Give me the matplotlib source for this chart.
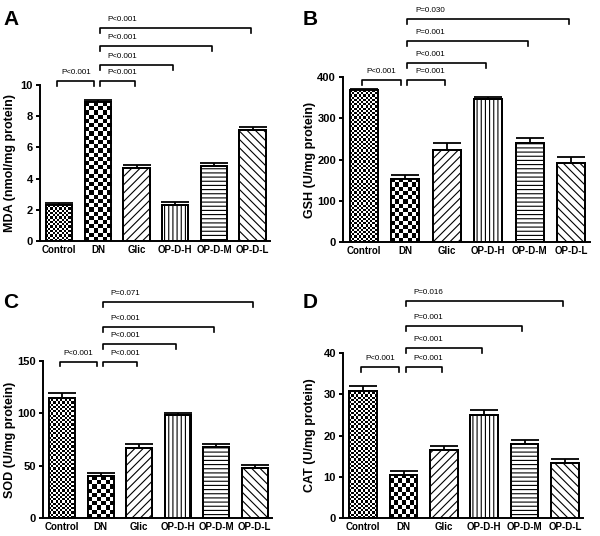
import matplotlib
matplotlib.use("Agg")
import matplotlib.pyplot as plt
import numpy as np

plt.rcParams['font.family'] = ['Liberation Sans', 'DejaVu Sans']
plt.rcParams['hatch.linewidth'] = 0.8

# groups
groups = ['Control', 'DN', 'Glic', 'OP-D-H', 'OP-D-M', 'OP-D-L']

# panel values (mean, SEM)
mda = [2.3, 8.9, 4.65, 2.3, 4.8, 7.1]
mda_err = [0.15, 0.17, 0.2, 0.2, 0.17, 0.2]
gsh = [368, 153, 224, 346, 241, 192]
gsh_err = [4, 9, 15, 6, 12, 13]
sod = [115, 40, 67, 98, 68, 48]
sod_err = [4.5, 3, 3.5, 2, 3, 3]
cat = [30.8, 10.5, 16.4, 25.0, 18.0, 13.4]
cat_err = [1.3, 0.9, 1.0, 1.3, 1.0, 0.8]

# comparisons: (group i, group j, label)
cmp_a = [(0, 1, 'P<0.001'), (1, 2, 'P<0.001'), (1, 3, 'P<0.001'), (1, 4, 'P<0.001'), (1, 5, 'P<0.001')]
cmp_b = [(0, 1, 'P<0.001'), (1, 2, 'P=0.001'), (1, 3, 'P<0.001'), (1, 4, 'P=0.001'), (1, 5, 'P=0.030')]
cmp_c = [(0, 1, 'P<0.001'), (1, 2, 'P<0.001'), (1, 3, 'P<0.001'), (1, 4, 'P<0.001'), (1, 5, 'P=0.071')]
cmp_d = [(0, 1, 'P<0.001'), (1, 2, 'P<0.001'), (1, 3, 'P<0.001'), (1, 4, 'P=0.001'), (1, 5, 'P=0.016')]

hatches = [None, None, '////', '||||', '----', '\\\\\\\\']
checker_px = {0: 2.2, 1: 4.2}   # checkerboard square size for Control and DN

W, H = 600, 536


def checker_fill(ax, bar, sq):
    ext = bar.get_window_extent()
    nx = max(1, int(round(ext.width / sq)))
    ny = max(1, int(round(ext.height / sq)))
    arr = (np.add.outer(np.arange(ny), np.arange(nx)) % 2).astype(float)
    x0 = bar.get_x()
    im = ax.imshow(arr, extent=[x0, x0 + bar.get_width(), 0, bar.get_height()],
                   origin='lower', cmap='gray', interpolation='nearest',
                   aspect='auto', zorder=2.5)
    im.set_clip_path(bar)


def panel(box, vals, errs, ymax, ystep, ylabel, letter, letter_xy, comps, levels):
    # box in pixels: left, top, right, bottom
    l, t, r, b = box
    ax = fig.add_axes([l / W, 1 - b / H, (r - l) / W, (b - t) / H])
    x = np.arange(len(groups))
    ax.set_xlim(-0.5, 5.45)
    ax.set_ylim(0, ymax)
    bars = ax.bar(x, vals, width=0.68, color='white', edgecolor='black',
                  linewidth=1.4, zorder=2)
    for bb, h in zip(bars, hatches):
        if h:
            bb.set_hatch(h)
    for i, sq in checker_px.items():
        checker_fill(ax, bars[i], sq)
    ax.bar(x, vals, width=0.68, fill=False, edgecolor='black', linewidth=1.4, zorder=3)
    ax.errorbar(x, vals, yerr=[[0] * len(vals), errs], fmt='none', ecolor='black',
                elinewidth=1.3, capsize=10, capthick=1.3, zorder=1)
    ax.set_xlim(-0.5, 5.45)
    ax.set_ylim(0, ymax)
    ax.set_yticks(np.arange(0, ymax + ystep / 2, ystep))
    ax.set_xticks(x)
    ax.set_xticklabels(groups, fontsize=7, fontweight='bold')
    ax.tick_params(axis='x', length=0, pad=3)
    ax.tick_params(axis='y', length=3, width=1.4, labelsize=8, pad=2)
    for lab in ax.get_yticklabels():
        lab.set_fontweight('bold')
    ax.set_ylabel(ylabel, fontsize=9, fontweight='bold')
    ax.yaxis.set_label_coords((letter_xy[0] + 13 - l) / (r - l), 0.5)
    for s in ['top', 'right']:
        ax.spines[s].set_visible(False)
    for s in ['left', 'bottom']:
        ax.spines[s].set_linewidth(1.4)
    tr = ax.get_xaxis_transform()
    tick = 0.03
    for (i, j, txt), lv in zip(comps, levels):
        if i == 0:
            xa, xb = i - 0.05, j - 0.1
        else:
            xa, xb = i + 0.05, j - 0.05
        ax.plot([xa, xa, xb, xb], [lv - tick, lv, lv, lv - tick], color='black',
                lw=1.2, transform=tr, clip_on=False)
        if i == 0:
            ax.text((xa + xb) / 2, lv + 0.03, txt, transform=tr, ha='center',
                    va='bottom', fontsize=5.8)
        else:
            ax.text(xa + 0.2, lv + 0.03, txt, transform=tr, ha='left',
                    va='bottom', fontsize=5.8)
    fig.text(letter_xy[0] / W, 1 - letter_xy[1] / H, letter, fontsize=15,
             fontweight='bold', va='baseline', ha='left')
    return ax


fig = plt.figure(figsize=(6, 5.36), dpi=100)
fig.patch.set_facecolor('white')

axA = panel((40, 85, 270, 241), mda, mda_err, 10, 2,
            'MDA (nmol/mg protein)', 'A', (3, 25), cmp_a, [1.026, 1.026, 1.128, 1.25, 1.365])
axB = panel((343, 77, 590, 242), gsh, gsh_err, 400, 100,
            'GSH (U/mg protein)', 'B', (303, 25), cmp_b, [0.982, 0.982, 1.085, 1.218, 1.352])
axC = panel((43, 361, 272, 518), sod, sod_err, 150, 50,
            'SOD (U/mg protein)', 'C', (3, 308), cmp_c, [0.995, 0.995, 1.108, 1.217, 1.376])
axD = panel((343, 353, 583, 518), cat, cat_err, 40, 10,
            'CAT (U/mg protein)', 'D', (303, 308), cmp_d, [0.917, 0.917, 1.03, 1.164, 1.315])

fig.savefig('out.png', dpi=100)
